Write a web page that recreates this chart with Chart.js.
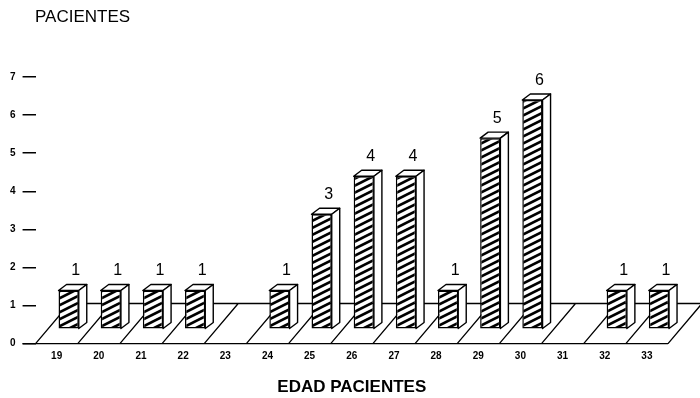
<!DOCTYPE html>
<html>
<head>
<meta charset="utf-8">
<script src="https://cdn.jsdelivr.net/npm/chart.js@4"></script>
<style>
  html,body{margin:0;padding:0;background:#fff;}
</style>
</head>
<body>
<canvas id="edad-chart" width="700" height="398"></canvas>
<script>
// edades (eje x) y numero de pacientes por edad
const ages=['19','20','21','22','23','24','25','26','27','28','29','30','31','32','33'];
const patients=[1,1,1,1,0,1,3,4,4,1,5,6,0,1,1];
const yMax=7;

function hatch(){
  const c=document.createElement('canvas');c.width=14;c.height=14;
  const g=c.getContext('2d');
  g.fillStyle='#fff';g.fillRect(0,0,14,14);
  g.strokeStyle='#000';g.lineWidth=2.6;
  g.beginPath();
  for(let k=-14;k<=21;k+=7){g.moveTo(-1,k+7.5);g.lineTo(15,k-0.5);}
  g.stroke();
  return g.createPattern(c,'repeat');
}

const shiftX=12, dep=8, depY=6, floorDx=34;

const bar3d={
  id:'bar3d',
  beforeDatasetsDraw(chart){
    const {ctx,chartArea:a,scales:{y}}=chart;
    const w=(a.right-a.left)/ages.length;
    const y0=y.getPixelForValue(0), y1=y.getPixelForValue(1)-2;
    ctx.save();
    ctx.strokeStyle='#000';ctx.lineWidth=1.3;
    ctx.beginPath();
    ctx.moveTo(a.left-13,y0);ctx.lineTo(a.right,y0);
    ctx.moveTo(a.left+floorDx,y1);ctx.lineTo(a.right+floorDx,y1);
    for(let k=0;k<=ages.length;k++){
      ctx.moveTo(a.left+k*w,y0);ctx.lineTo(a.left+k*w+floorDx,y1);
    }
    ctx.stroke();
    ctx.restore();
    ctx.save();
    ctx.translate(shiftX,0);
  },
  afterDatasetsDraw(chart){
    const {ctx}=chart;
    chart.getDatasetMeta(0).data.forEach((bar,i)=>{
      if(!patients[i]) return;
      const {x,y:top,base,width}=bar.getProps(['x','y','base','width'],true);
      const l=x-width/2, r=x+width/2;
      ctx.fillStyle='#fff';ctx.strokeStyle='#000';ctx.lineWidth=1.4;ctx.lineJoin='round';
      ctx.beginPath();
      ctx.moveTo(l,top);ctx.lineTo(l+dep,top-depY);ctx.lineTo(r+dep,top-depY);ctx.lineTo(r,top);ctx.closePath();
      ctx.fill();ctx.stroke();
      ctx.beginPath();
      ctx.moveTo(r,top);ctx.lineTo(r+dep,top-depY);ctx.lineTo(r+dep,base-depY);ctx.lineTo(r,base);ctx.closePath();
      ctx.fill();ctx.stroke();
      ctx.fillStyle='#000';ctx.font='16px "Liberation Sans", Arial, sans-serif';
      ctx.textAlign='center';ctx.textBaseline='alphabetic';
      ctx.fillText(String(patients[i]),x+7,top-15);
    });
    ctx.restore();
  },
  afterDraw(chart){
    const {ctx}=chart;
    ctx.save();
    ctx.fillStyle='#000';ctx.font='17px "Liberation Sans", Arial, sans-serif';
    ctx.textAlign='left';ctx.textBaseline='middle';
    ctx.fillText('PACIENTES',35,17);
    ctx.restore();
  }
};

new Chart(document.getElementById('edad-chart'),{
  type:'bar',
  data:{labels:ages,datasets:[{
    data:patients,yAxisID:'yb',clip:false,
    backgroundColor:hatch(),borderColor:'#000',borderWidth:1.5,borderSkipped:false,
    categoryPercentage:1,barPercentage:0.48
  }]},
  options:{
    responsive:false,animation:false,
    layout:{padding:{top:77,left:3,right:32,bottom:0}},
    plugins:{legend:{display:false},tooltip:{enabled:false}},
    scales:{
      x:{
        grid:{display:false,drawTicks:false,tickLength:0},border:{display:false},
        ticks:{color:'#000',padding:7,maxRotation:0,autoSkip:false,
          font:{family:'"Liberation Sans", Arial, sans-serif',size:10,weight:'bold'}},
        title:{display:true,text:'EDAD PACIENTES',color:'#000',padding:{top:8,bottom:0},
          font:{family:'"Liberation Sans", Arial, sans-serif',size:17,weight:'bold'}}
      },
      y:{
        min:0,max:yMax,
        ticks:{stepSize:1,color:'#000',padding:7,
          font:{family:'"Liberation Sans", Arial, sans-serif',size:10,weight:'bold'}},
        grid:{drawOnChartArea:false,drawTicks:true,tickLength:13,color:'#000',lineWidth:1.5},
        border:{display:false}
      },
      yb:{display:false,min:-0.395,max:yMax-0.395}
    }
  },
  plugins:[bar3d]
});
</script>
</body>
</html>
